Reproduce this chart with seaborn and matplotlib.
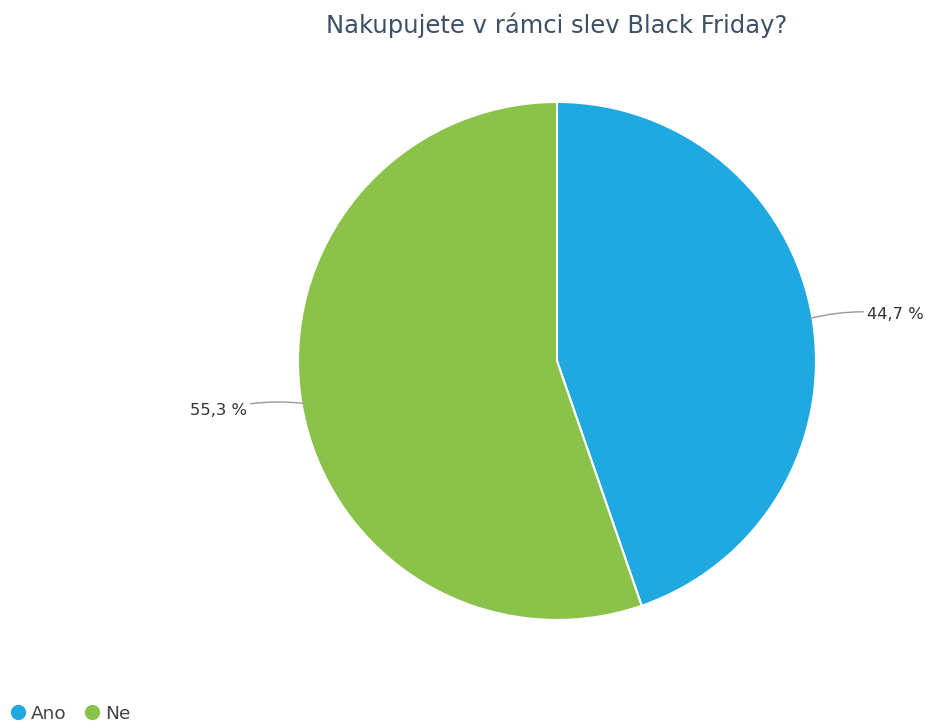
import numpy as np
import seaborn as sns
import matplotlib
matplotlib.use("Agg")
import matplotlib.pyplot as plt
from matplotlib.lines import Line2D

TITLE = "Nakupujete v rámci slev Black Friday?"
CATEGORIES = ["Ano", "Ne"]
SHARES = [44.7, 55.3]
LABELS = ["44,7 %", "55,3 %"]
COLORS = ["#20a9e0", "#8bc34a"]

sns.set_theme(style="white")
plt.rcParams['font.family'] = ['DejaVu Sans']

fig = plt.figure(figsize=(9.28, 7.22), dpi=100)
ax = fig.add_axes([0.3211, 0.1413, 0.5582, 0.7175])

wedges, _ = ax.pie(
    SHARES, colors=COLORS, startangle=90, counterclock=False, radius=1,
    wedgeprops=dict(edgecolor='white', linewidth=1.5),
)
ax.set_xlim(-1, 1)
ax.set_ylim(-1, 1)
ax.set_aspect('equal')
ax.axis('off')

for w, lab in zip(wedges, LABELS):
    mid = np.deg2rad((w.theta1 + w.theta2) / 2)
    x, y = np.cos(mid), np.sin(mid)
    side = 1 if x > 0 else -1
    tx = x + side * 0.16
    ty = y + side * 0.02 - 0.005
    ax.annotate(
        lab, xy=(x * 0.99, y * 0.99), xytext=(tx + side * 0.05, ty),
        ha='left' if side > 0 else 'right', va='center',
        fontsize=11.8, color='#333333',
        arrowprops=dict(arrowstyle='-', color='#999999', lw=1,
                        shrinkA=0, shrinkB=0,
                        connectionstyle='arc3,rad=%s' % (0.1 * side)),
        annotation_clip=False,
    )

fig.text(0.6002, 0.965, TITLE, ha='center', va='center', fontsize=17.5, color='#3d5066')

handles = [Line2D([0], [0], marker='o', linestyle='', markersize=10,
                  markerfacecolor=c, markeredgecolor=c) for c in COLORS]
fig.legend(handles, CATEGORIES, loc='lower left', bbox_to_anchor=(-0.009, -0.024),
           ncol=2, frameon=False, fontsize=13.3, handletextpad=0.2,
           columnspacing=0.9, handlelength=1.0, labelcolor='#444444')

fig.savefig("out.png", dpi=100)
